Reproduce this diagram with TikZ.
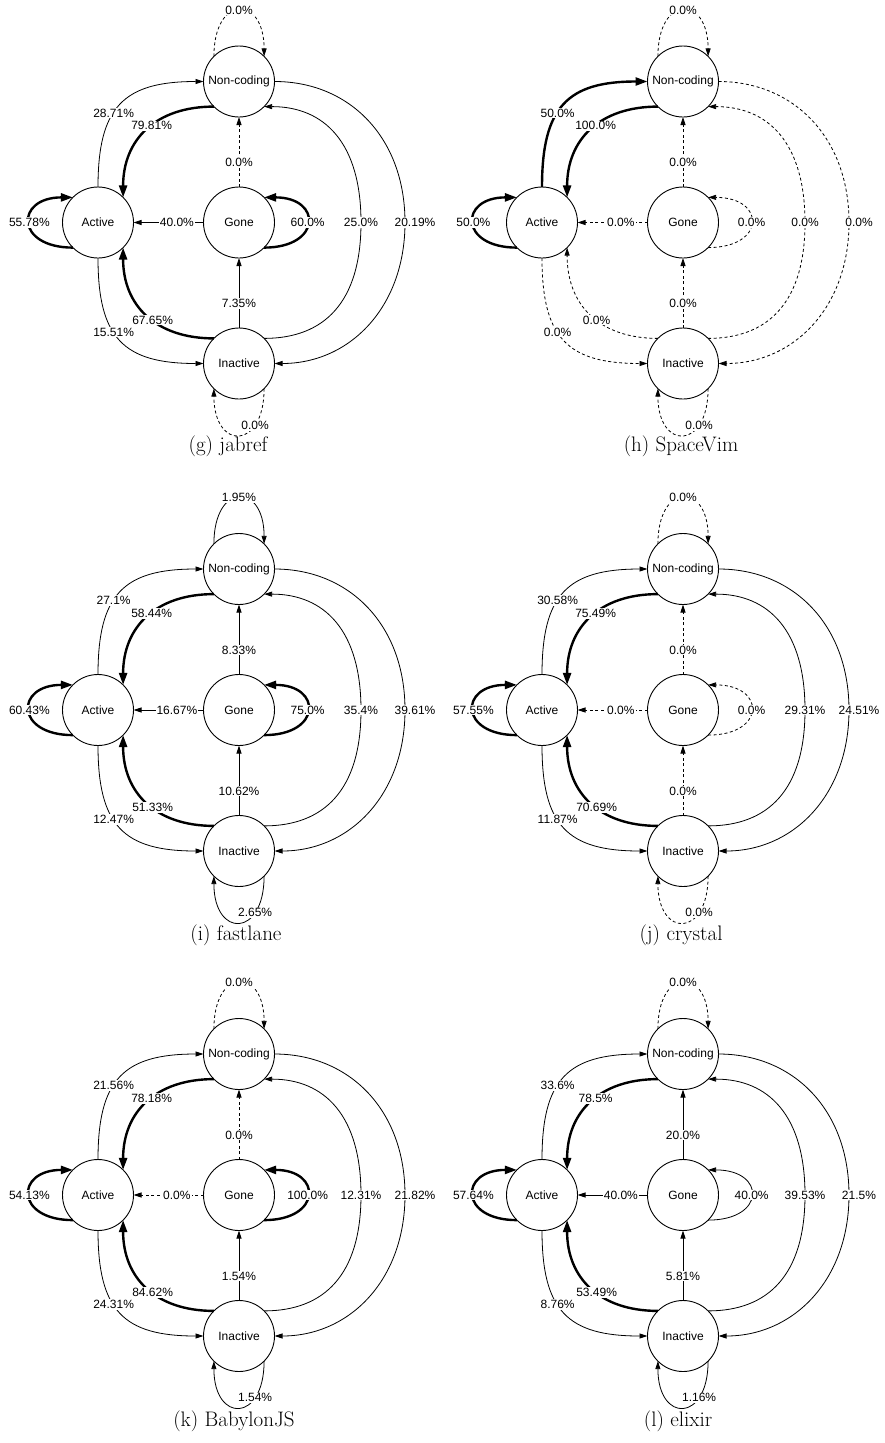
\documentclass[tikz,border=0pt]{standalone}
\usepackage{fontspec}
\newfontfamily\hv{Liberation Sans}
\usetikzlibrary{arrows.meta}
\tikzset{
 statenode/.style={circle, draw, line width=0.9pt, minimum size=71pt, inner sep=0pt, outer sep=0pt, font=\hv\fontsize{12}{14}\selectfont},
 lbl/.style={fill=white, inner sep=1pt, font=\hv\fontsize{12}{14}\selectfont},
 captxt/.style={inner sep=0pt, font=\fontsize{21}{25}\selectfont},
 ethin/.style={line width=0.8pt, -{Triangle[length=8pt,width=5pt]}},
 ethick/.style={line width=2.4pt, -{Triangle[length=12pt,width=8pt]}},
 edash/.style={ethin, dash pattern=on 3pt off 2.5pt},
}
% panel: #1 prefix, #2 x, #3 y of Gone, #4 #5 caption offset, #6 caption
\newcommand\mkpanel[6]{%
 \begin{scope}[shift={(#2,#3)}]
  \node[statenode] (#1G) at (0,0) {Gone};
  \node[statenode] (#1A) at (-141,0) {Active};
  \node[statenode] (#1N) at (0,141) {Non-coding};
  \node[statenode] (#1I) at (0,-141) {Inactive};
  \coordinate (#1ra) at (122,0);
  \coordinate (#1rb) at (166,0);
  \node[captxt] (#1cap) at (#4,#5) {#6};
 \end{scope}}
\newcommand\eNloop[3]{\draw[#2] (#1N.135) .. controls +(0,62) and +(0,62) .. (#1N.45) node[lbl,pos=0.5]{#3};}
\newcommand\eAN[3]{\draw[#2] (#1A.90) .. controls +(0,80) and +(-80,0) .. (#1N.180) node[lbl,pos=0.42]{#3};}
\newcommand\eNA[3]{\draw[#2] (#1N.225) .. controls +(-58,0) and +(0,58) .. (#1A.45) node[lbl,pos=0.45]{#3};}
\newcommand\eAloop[3]{\draw[#2] (#1A.225) .. controls +(-58,0) and +(-58,0) .. (#1A.135) node[lbl,pos=0.5]{#3};}
\newcommand\eGA[3]{\draw[#2] (#1G.180) -- (#1A.0) node[lbl,pos=0.38]{#3};}
\newcommand\eGloop[3]{\draw[#2] (#1G.-45) .. controls +(58,0) and +(58,0) .. (#1G.45) node[lbl,pos=0.5]{#3};}
\newcommand\eGN[3]{\draw[#2] (#1G.90) -- (#1N.270) node[lbl,pos=0.35]{#3};}
\newcommand\eIG[3]{\draw[#2] (#1I.90) -- (#1G.270) node[lbl,pos=0.35]{#3};}
\newcommand\eIA[3]{\draw[#2] (#1I.135) .. controls +(-58,0) and +(0,-58) .. (#1A.-45) node[lbl,pos=0.44]{#3};}
\newcommand\eAI[3]{\draw[#2] (#1A.270) .. controls +(0,-80) and +(-80,0) .. (#1I.180) node[lbl,pos=0.42]{#3};}
\newcommand\eIN[3]{\draw[#2] (#1I.45) .. controls +(60,0) and +(0,-80) .. (#1ra) node[lbl,pos=1]{#3} .. controls +(0,80) and +(60,0) .. (#1N.-45);}
\newcommand\eNI[3]{\draw[#2] (#1N.0) .. controls +(75,0) and +(0,85) .. (#1rb) node[lbl,pos=1,xshift=10pt]{#3} .. controls +(0,-85) and +(75,0) .. (#1I.0);}
\newcommand\eIloop[3]{\draw[#2] (#1I.-45) .. controls +(0,-62) and +(0,-62) .. (#1I.-135) node[lbl,pos=0.27]{#3};}

\begin{document}
\begin{tikzpicture}[x=1pt,y=1pt]
\path[use as bounding box, fill=white] (0,0) rectangle (884,-1443);

% (g) jabref
\mkpanel{g}{239}{-222.5}{-11}{-223.5}{(g) jabref}
\eNloop{g}{edash}{0.0\%}
\eAN{g}{ethin}{28.71\%}
\eNA{g}{ethick}{79.81\%}
\eAloop{g}{ethick}{55.78\%}
\eGA{g}{ethin}{40.0\%}
\eGloop{g}{ethick}{60.0\%}
\eGN{g}{edash}{0.0\%}
\eIG{g}{ethin}{7.35\%}
\eIA{g}{ethick}{67.65\%}
\eAI{g}{ethin}{15.51\%}
\eIN{g}{ethin}{25.0\%}
\eNI{g}{ethin}{20.19\%}
\eIloop{g}{edash}{0.0\%}

% (h) SpaceVim
\mkpanel{h}{683}{-222.5}{-2}{-223.5}{(h) SpaceVim}
\eNloop{h}{edash}{0.0\%}
\eAN{h}{ethick}{50.0\%}
\eNA{h}{ethick}{100.0\%}
\eAloop{h}{ethick}{50.0\%}
\eGA{h}{edash}{0.0\%}
\eGloop{h}{edash}{0.0\%}
\eGN{h}{edash}{0.0\%}
\eIG{h}{edash}{0.0\%}
\eIA{h}{edash}{0.0\%}
\eAI{h}{edash}{0.0\%}
\eIN{h}{edash}{0.0\%}
\eNI{h}{edash}{0.0\%}
\eIloop{h}{edash}{0.0\%}

% (i) fastlane
\mkpanel{i}{239}{-710}{-3}{-225}{(i) fastlane}
\eNloop{i}{ethin}{1.95\%}
\eAN{i}{ethin}{27.1\%}
\eNA{i}{ethick}{58.44\%}
\eAloop{i}{ethick}{60.43\%}
\eGA{i}{ethin}{16.67\%}
\eGloop{i}{ethick}{75.0\%}
\eGN{i}{ethin}{8.33\%}
\eIG{i}{ethin}{10.62\%}
\eIA{i}{ethick}{51.33\%}
\eAI{i}{ethin}{12.47\%}
\eIN{i}{ethin}{35.4\%}
\eNI{i}{ethin}{39.61\%}
\eIloop{i}{ethin}{2.65\%}

% (j) crystal
\mkpanel{j}{683}{-710}{-2}{-225}{(j) crystal}
\eNloop{j}{edash}{0.0\%}
\eAN{j}{ethin}{30.58\%}
\eNA{j}{ethick}{75.49\%}
\eAloop{j}{ethick}{57.55\%}
\eGA{j}{edash}{0.0\%}
\eGloop{j}{edash}{0.0\%}
\eGN{j}{edash}{0.0\%}
\eIG{j}{edash}{0.0\%}
\eIA{j}{ethick}{70.69\%}
\eAI{j}{ethin}{11.87\%}
\eIN{j}{ethin}{29.31\%}
\eNI{j}{ethin}{24.51\%}
\eIloop{j}{edash}{0.0\%}

% (k) BabylonJS
\mkpanel{k}{239}{-1195}{-5}{-226}{(k) BabylonJS}
\eNloop{k}{edash}{0.0\%}
\eAN{k}{ethin}{21.56\%}
\eNA{k}{ethick}{78.18\%}
\eAloop{k}{ethick}{54.13\%}
\eGA{k}{edash}{0.0\%}
\eGloop{k}{ethick}{100.0\%}
\eGN{k}{edash}{0.0\%}
\eIG{k}{ethin}{1.54\%}
\eIA{k}{ethick}{84.62\%}
\eAI{k}{ethin}{24.31\%}
\eIN{k}{ethin}{12.31\%}
\eNI{k}{ethin}{21.82\%}
\eIloop{k}{ethin}{1.54\%}

% (l) elixir
\mkpanel{l}{683}{-1195}{-5}{-226}{(l) elixir}
\eNloop{l}{edash}{0.0\%}
\eAN{l}{ethin}{33.6\%}
\eNA{l}{ethick}{78.5\%}
\eAloop{l}{ethick}{57.64\%}
\eGA{l}{ethin}{40.0\%}
\eGloop{l}{ethin}{40.0\%}
\eGN{l}{ethin}{20.0\%}
\eIG{l}{ethin}{5.81\%}
\eIA{l}{ethick}{53.49\%}
\eAI{l}{ethin}{8.76\%}
\eIN{l}{ethin}{39.53\%}
\eNI{l}{ethin}{21.5\%}
\eIloop{l}{ethin}{1.16\%}
\end{tikzpicture}
\end{document}
